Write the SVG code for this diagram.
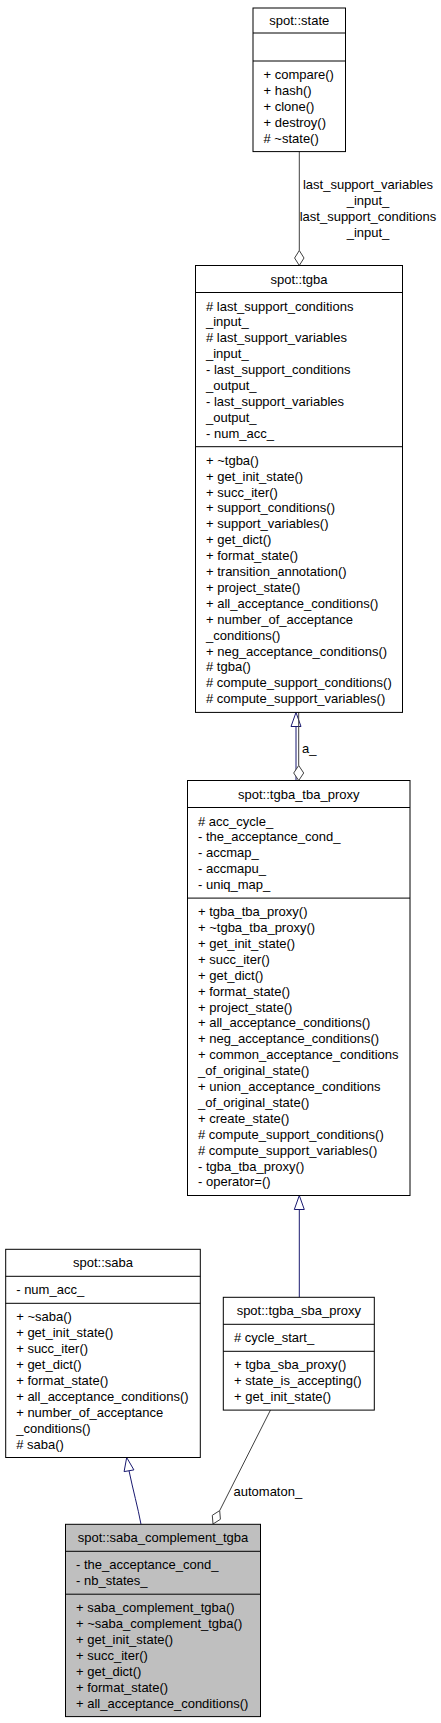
<svg xmlns="http://www.w3.org/2000/svg" width="441" height="1723" viewBox="0 0 441 1723">
<style>
text{font-family:"Liberation Sans",Arial,sans-serif;font-size:13px;fill:#000}
.t{text-anchor:middle}
.box{fill:#fff;stroke:#000;stroke-width:1}
.cur{fill:#bfbfbf;stroke:#000;stroke-width:1}
.sep{stroke:#000;stroke-width:1}
.inh{fill:none;stroke:#191970;stroke-width:1}
.tri{fill:#fff;stroke:#191970;stroke-width:1}
.agg{fill:none;stroke:#404040;stroke-width:1}
.dia{fill:#fff;stroke:#404040;stroke-width:1}
</style>
<rect width="441" height="1723" fill="#fff"/>
<g id="edges">
  <line class="agg" x1="299.3" y1="151.6" x2="299.3" y2="250.5"/>
  <polygon class="dia" points="299.3,250.5 304,258 299.3,265.5 294.6,258"/>
  <text class="t" x="368" y="188.5">last_support_variables</text>
  <text class="t" x="368" y="204.5">_input_</text>
  <text class="t" x="368" y="220.5">last_support_conditions</text>
  <text class="t" x="368" y="236.5">_input_</text>
  <line class="inh" x1="296" y1="726.5" x2="296" y2="780.5"/>
  <polygon class="tri" points="296,712.5 301,726.5 291,726.5"/>
  <line class="agg" x1="298.7" y1="712.5" x2="298.7" y2="765.5"/>
  <polygon class="dia" points="298.7,765.5 303.7,773 298.7,780.5 293.7,773"/>
  <text x="302" y="752.5">a_</text>
  <line class="inh" x1="299.3" y1="1209.5" x2="299.3" y2="1297.3"/>
  <polygon class="tri" points="299.3,1195.5 304.3,1209.5 294.3,1209.5"/>
  <path class="inh" d="M141,1524.3 C138,1508 133,1490 129,1470.7"/>
  <polygon class="tri" points="126.7,1457.5 133.9,1469.9 124.1,1471.6"/>
  <line class="agg" x1="270.5" y1="1410" x2="219.7" y2="1510.6"/>
  <polygon class="dia" points="219.7,1510.6 220.4,1519.3 213,1524 212.3,1515.3"/>
  <text x="233.5" y="1496">automaton_</text>
</g>
<g id="state">
  <rect class="box" x="253" y="8" width="92.5" height="143.6"/>
  <line class="sep" x1="253" y1="33" x2="345.5" y2="33"/>
  <line class="sep" x1="253" y1="61" x2="345.5" y2="61"/>
  <text class="t" x="299.25" y="25">spot::state</text>
  <text x="263.5" y="79"><tspan x="263.5">+ compare()</tspan><tspan x="263.5" dy="15.9">+ hash()</tspan><tspan x="263.5" dy="15.9">+ clone()</tspan><tspan x="263.5" dy="15.9">+ destroy()</tspan><tspan x="263.5" dy="15.9"># ~state()</tspan></text>
</g>
<g id="tgba">
  <rect class="box" x="195.5" y="265.5" width="207" height="446.9"/>
  <line class="sep" x1="195.5" y1="292.5" x2="402.5" y2="292.5"/>
  <line class="sep" x1="195.5" y1="446.7" x2="402.5" y2="446.7"/>
  <text class="t" x="299" y="283.5">spot::tgba</text>
  <text x="206" y="310.5"><tspan x="206"># last_support_conditions</tspan><tspan x="206" dy="15.9">_input_</tspan><tspan x="206" dy="15.9"># last_support_variables</tspan><tspan x="206" dy="15.9">_input_</tspan><tspan x="206" dy="15.9">- last_support_conditions</tspan><tspan x="206" dy="15.9">_output_</tspan><tspan x="206" dy="15.9">- last_support_variables</tspan><tspan x="206" dy="15.9">_output_</tspan><tspan x="206" dy="15.9">- num_acc_</tspan></text>
  <text x="206" y="464.7"><tspan x="206">+ ~tgba()</tspan><tspan x="206" dy="15.9">+ get_init_state()</tspan><tspan x="206" dy="15.9">+ succ_iter()</tspan><tspan x="206" dy="15.9">+ support_conditions()</tspan><tspan x="206" dy="15.9">+ support_variables()</tspan><tspan x="206" dy="15.9">+ get_dict()</tspan><tspan x="206" dy="15.9">+ format_state()</tspan><tspan x="206" dy="15.9">+ transition_annotation()</tspan><tspan x="206" dy="15.9">+ project_state()</tspan><tspan x="206" dy="15.9">+ all_acceptance_conditions()</tspan><tspan x="206" dy="15.9">+ number_of_acceptance</tspan><tspan x="206" dy="15.9">_conditions()</tspan><tspan x="206" dy="15.9">+ neg_acceptance_conditions()</tspan><tspan x="206" dy="15.9"># tgba()</tspan><tspan x="206" dy="15.9"># compute_support_conditions()</tspan><tspan x="206" dy="15.9"># compute_support_variables()</tspan></text>
</g>
<g id="tgba_tba_proxy">
  <rect class="box" x="187.5" y="780.5" width="222.5" height="415"/>
  <line class="sep" x1="187.5" y1="807.5" x2="410" y2="807.5"/>
  <line class="sep" x1="187.5" y1="898.1" x2="410" y2="898.1"/>
  <text class="t" x="298.75" y="798.5">spot::tgba_tba_proxy</text>
  <text x="198" y="825.5"><tspan x="198"># acc_cycle_</tspan><tspan x="198" dy="15.9">- the_acceptance_cond_</tspan><tspan x="198" dy="15.9">- accmap_</tspan><tspan x="198" dy="15.9">- accmapu_</tspan><tspan x="198" dy="15.9">- uniq_map_</tspan></text>
  <text x="198" y="916.1"><tspan x="198">+ tgba_tba_proxy()</tspan><tspan x="198" dy="15.9">+ ~tgba_tba_proxy()</tspan><tspan x="198" dy="15.9">+ get_init_state()</tspan><tspan x="198" dy="15.9">+ succ_iter()</tspan><tspan x="198" dy="15.9">+ get_dict()</tspan><tspan x="198" dy="15.9">+ format_state()</tspan><tspan x="198" dy="15.9">+ project_state()</tspan><tspan x="198" dy="15.9">+ all_acceptance_conditions()</tspan><tspan x="198" dy="15.9">+ neg_acceptance_conditions()</tspan><tspan x="198" dy="15.9">+ common_acceptance_conditions</tspan><tspan x="198" dy="15.9">_of_original_state()</tspan><tspan x="198" dy="15.9">+ union_acceptance_conditions</tspan><tspan x="198" dy="15.9">_of_original_state()</tspan><tspan x="198" dy="15.9">+ create_state()</tspan><tspan x="198" dy="15.9"># compute_support_conditions()</tspan><tspan x="198" dy="15.9"># compute_support_variables()</tspan><tspan x="198" dy="15.9">- tgba_tba_proxy()</tspan><tspan x="198" dy="15.9">- operator=()</tspan></text>
</g>
<g id="saba">
  <rect class="box" x="5.7" y="1249.3" width="194.6" height="208.2"/>
  <line class="sep" x1="5.7" y1="1276.3" x2="200.3" y2="1276.3"/>
  <line class="sep" x1="5.7" y1="1303.3" x2="200.3" y2="1303.3"/>
  <text class="t" x="103" y="1267.3">spot::saba</text>
  <text x="16.2" y="1294.3">- num_acc_</text>
  <text x="16.2" y="1321.3"><tspan x="16.2">+ ~saba()</tspan><tspan x="16.2" dy="15.9">+ get_init_state()</tspan><tspan x="16.2" dy="15.9">+ succ_iter()</tspan><tspan x="16.2" dy="15.9">+ get_dict()</tspan><tspan x="16.2" dy="15.9">+ format_state()</tspan><tspan x="16.2" dy="15.9">+ all_acceptance_conditions()</tspan><tspan x="16.2" dy="15.9">+ number_of_acceptance</tspan><tspan x="16.2" dy="15.9">_conditions()</tspan><tspan x="16.2" dy="15.9"># saba()</tspan></text>
</g>
<g id="tgba_sba_proxy">
  <rect class="box" x="223.3" y="1297.3" width="151" height="112.8"/>
  <line class="sep" x1="223.3" y1="1324.3" x2="374.3" y2="1324.3"/>
  <line class="sep" x1="223.3" y1="1351.3" x2="374.3" y2="1351.3"/>
  <text class="t" x="298.8" y="1315.3">spot::tgba_sba_proxy</text>
  <text x="234" y="1342.3"># cycle_start_</text>
  <text x="234" y="1369.3"><tspan x="234">+ tgba_sba_proxy()</tspan><tspan x="234" dy="15.9">+ state_is_accepting()</tspan><tspan x="234" dy="15.9">+ get_init_state()</tspan></text>
</g>
<g id="saba_complement_tgba">
  <rect class="cur" x="65.5" y="1524.3" width="195" height="192.3"/>
  <line class="sep" x1="65.5" y1="1551.3" x2="260.5" y2="1551.3"/>
  <line class="sep" x1="65.5" y1="1594.2" x2="260.5" y2="1594.2"/>
  <text class="t" x="163" y="1542.3">spot::saba_complement_tgba</text>
  <text x="76" y="1569.3"><tspan x="76">- the_acceptance_cond_</tspan><tspan x="76" dy="15.9">- nb_states_</tspan></text>
  <text x="76" y="1612.2"><tspan x="76">+ saba_complement_tgba()</tspan><tspan x="76" dy="15.9">+ ~saba_complement_tgba()</tspan><tspan x="76" dy="15.9">+ get_init_state()</tspan><tspan x="76" dy="15.9">+ succ_iter()</tspan><tspan x="76" dy="15.9">+ get_dict()</tspan><tspan x="76" dy="15.9">+ format_state()</tspan><tspan x="76" dy="15.9">+ all_acceptance_conditions()</tspan></text>
</g>
</svg>
